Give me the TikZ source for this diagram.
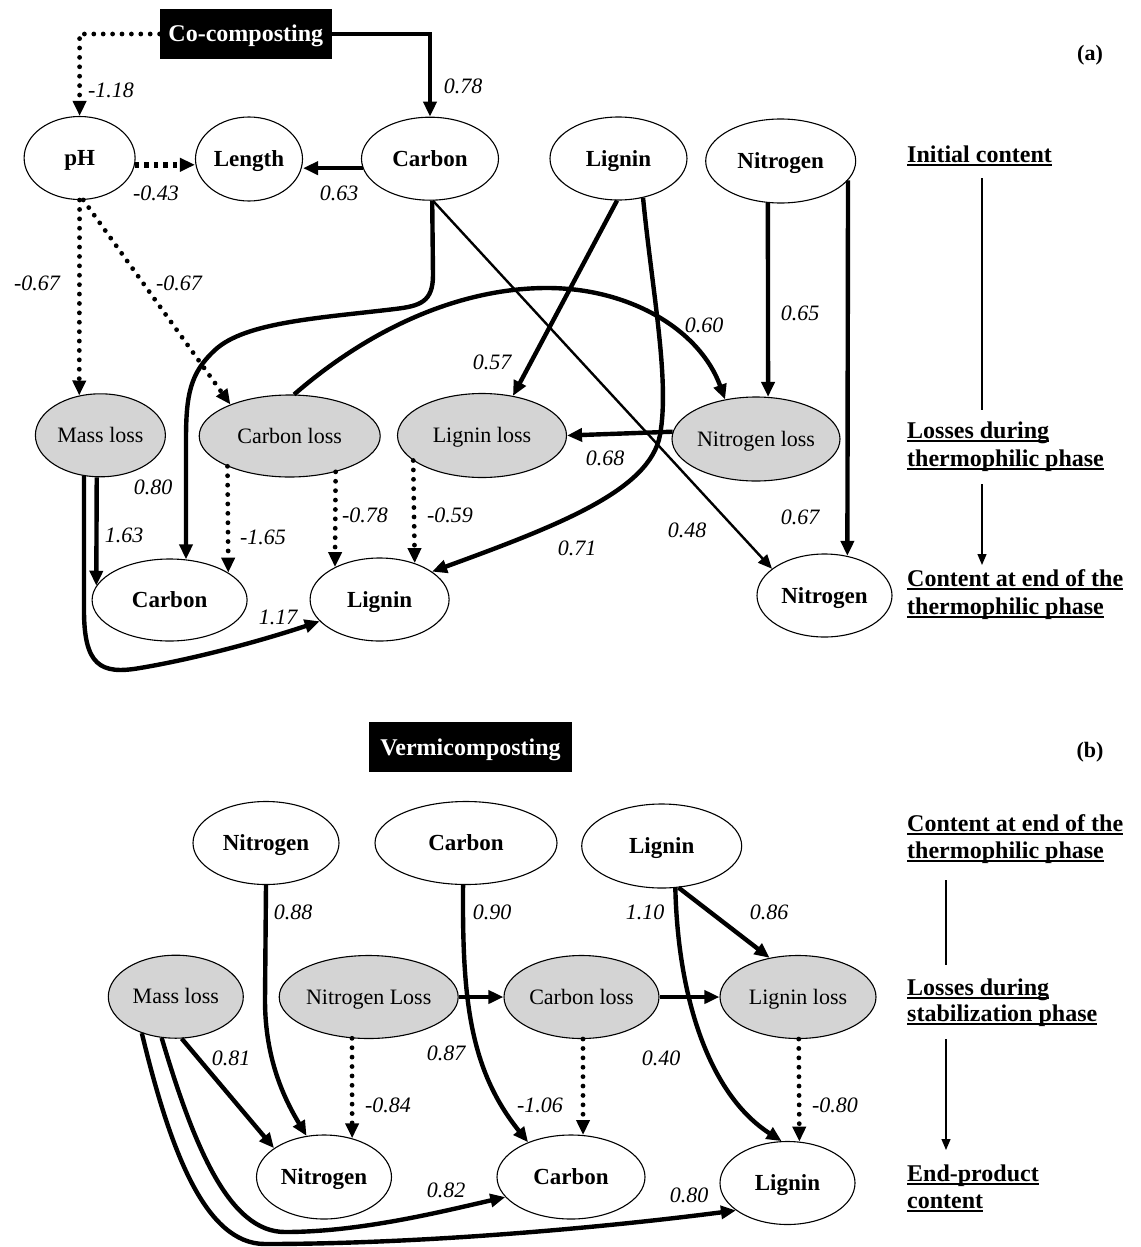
\documentclass[tikz,border=0pt]{standalone}
\usepackage{fontspec}
\setmainfont{Liberation Serif}
\usetikzlibrary{shapes.geometric,arrows.meta}
\definecolor{lossgray}{RGB}{212,212,212}
\newcommand\ulbox[1]{\setbox0\hbox{#1}\rlap{\rule[-4pt]{\wd0}{1.8pt}}\box0}
\begin{document}
\begin{tikzpicture}[x=1pt,y=-1pt,
  ell/.style={draw,ellipse,line width=1.1pt,inner sep=0pt,text height=15.5pt,text depth=0pt,font=\fontsize{23}{26}\selectfont\bfseries},
  lossell/.style={ell,fill=lossgray,text height=14.5pt,font=\fontsize{22}{26}\selectfont\mdseries},
  blackbox/.style={fill=black,text=white,inner sep=0pt,text height=16pt,text depth=0pt,font=\fontsize{24}{28}\selectfont\bfseries},
  lbl/.style={inner sep=0pt,font=\fontsize{22}{26}\selectfont\itshape},
  side/.style={inner sep=0pt,anchor=base west,font=\fontsize{24}{28}\selectfont\bfseries},
  tip/.style={-{Triangle[length=15pt,width=13pt]}},
  solidarr/.style={line width=4.4pt,tip},
  thinarr/.style={line width=2.4pt,-{Triangle[length=14pt,width=12pt]}},
  dotarr/.style={line width=4.8pt,dash pattern=on 0pt off 9.4pt,line cap=round,tip},
  dasharr/.style={line width=5.5pt,dash pattern=on 4.5pt off 5pt,tip},
  guide/.style={line width=1.3pt},
  guidearr/.style={line width=1.3pt,-{Triangle[length=11pt,width=9pt]}}
]
\useasboundingbox (0,0) rectangle (1140,1247);

% ---------------- (a) ----------------
\node[blackbox,minimum width=172pt,minimum height=50pt] (cc) at (245.8,34) {Co-composting};
\node[ell,minimum width=111pt,minimum height=83pt] (ph) at (79.6,158) {pH};
\node[ell,minimum width=107pt,minimum height=84pt] (len) at (249,159) {Length};
\node[ell,minimum width=137pt,minimum height=83pt] (ca) at (430,158.7) {Carbon};
\node[ell,minimum width=137pt,minimum height=83pt] (la) at (618.5,158.5) {Lignin};
\node[ell,minimum width=150pt,minimum height=84pt] (na) at (780.7,161) {Nitrogen};
\node[lossell,minimum width=130pt,minimum height=83pt] (ml) at (100.4,435.3) {Mass loss};
\node[lossell,minimum width=181pt,minimum height=82pt] (cl) at (289.7,436) {Carbon loss};
\node[lossell,minimum width=169pt,minimum height=84pt] (ll) at (482,435.5) {Lignin loss};
\node[lossell,minimum width=168pt,minimum height=84pt] (nl) at (756,439) {Nitrogen loss};
\node[ell,minimum width=155pt,minimum height=82pt] (cb) at (169.6,600) {Carbon};
\node[ell,minimum width=139pt,minimum height=83pt] (lb) at (379.6,599.5) {Lignin};
\node[ell,minimum width=135pt,minimum height=83pt] (nb) at (824.5,595.5) {Nitrogen};

\draw[dotarr] (cc.west) -| (ph.north);
\draw[solidarr] (cc.east) -| (ca.north);
\draw[dasharr] (ph.-7) -- (ph.-7 -| len.west);
\draw[solidarr] (ca.188) -- (ca.188 -| len.east);
\draw[dotarr] (ph.south) -- (ml.118);
\draw[dotarr] (ph.-85) -- (cl.152);
\draw[solidarr] (ml.-95) -- (cb.169);
\draw[solidarr] (ml.-112) -- (84,610) .. controls (84,665) and (100,675) .. (140,668) .. controls (200,658) and (270,638) .. (lb.200);
\draw[solidarr] (ca.-87) -- (433,275) .. controls (433,302) and (420,306) .. (395,309) .. controls (320,318) and (245,322) .. (215,350) .. controls (190,373) and (186,395) .. (186,440) -- (cb.68);
\draw[dotarr] (cl.-154) -- (cb.25);
\draw[dotarr] (cl.-38) -- (lb.144);
\draw[dotarr] (ll.-160) -- (lb.46);
\draw[solidarr] (cl.84) .. controls (380,320) and (470,288) .. (547,288) .. controls (630,288) and (700,330) .. (nl.128);
\draw[solidarr] (la.-92) -- (ll.52);
\draw[solidarr] (la.-58) .. controls (652,290) and (670,380) .. (660,435) .. controls (650,490) and (560,525) .. (lb.28);
\draw[thinarr] (ca.-86) -- (nb.153);
\draw[solidarr] (nl.175) -- (ll.east);
\draw[solidarr] (na.-107) -- (nl.74);
\draw[solidarr] (na.-16.5) -- (nb.60);

\node[lbl] (l1) at (111,90) {-1.18};
\node[lbl] (l2) at (463,86) {0.78};
\node[lbl] (l3) at (156,193) {-0.43};
\node[lbl] (l4) at (339,193) {0.63};
\node[lbl] (l5) at (37,283) {-0.67};
\node[lbl] (l6) at (179,283) {-0.67};
\node[lbl] (l7) at (492,362) {0.57};
\node[lbl] (l8) at (704,325) {0.60};
\node[lbl] (l9) at (800,313) {0.65};
\node[lbl] (l10) at (605,458) {0.68};
\node[lbl] (l11) at (153,487) {0.80};
\node[lbl] (l12) at (124,535) {1.63};
\node[lbl] (l13) at (263,537) {-1.65};
\node[lbl] (l14) at (365,515) {-0.78};
\node[lbl] (l15) at (450,515) {-0.59};
\node[lbl] (l16) at (577,548) {0.71};
\node[lbl] (l17) at (687,530) {0.48};
\node[lbl] (l18) at (800,517) {0.67};
\node[lbl] (l19) at (278,617) {1.17};

\node[inner sep=0pt,anchor=base,font=\fontsize{22}{26}\selectfont\bfseries] (pa) at (1090,60) {(a)};
\node[side] (ta1) at (907,162) {\ulbox{Initial content}};
\node[side] (ta2) at (907,438) {\ulbox{Losses during}};
\node[side] (ta3) at (907,466) {\ulbox{thermophilic phase}};
\node[side] (ta4) at (907,586) {\ulbox{Content at end of the}};
\node[side] (ta5) at (907,614) {\ulbox{thermophilic phase}};
\coordinate (ga1) at (982,178);
\coordinate (ga2) at (982,410);
\coordinate (ga3) at (982,484);
\coordinate (ga4) at (982,565);
\draw[guide] (ga1) -- (ga2);
\draw[guidearr] (ga3) -- (ga4);

% ---------------- (b) ----------------
\node[blackbox,minimum width=203pt,minimum height=50pt] (vc) at (470.5,747) {Vermicomposting};
\node[ell,minimum width=146pt,minimum height=83pt] (bn) at (266,843) {Nitrogen};
\node[ell,minimum width=182pt,minimum height=83pt] (bc) at (466,843) {Carbon};
\node[ell,minimum width=160pt,minimum height=84pt] (bl) at (661.7,846) {Lignin};
\node[lossell,minimum width=135pt,minimum height=83pt] (bml) at (175.8,996.7) {Mass loss};
\node[lossell,minimum width=179pt,minimum height=83pt] (bnl) at (368.7,997) {Nitrogen Loss};
\node[lossell,minimum width=155pt,minimum height=83pt] (bcl) at (581.5,997) {Carbon loss};
\node[lossell,minimum width=156pt,minimum height=83pt] (bll) at (798,997) {Lignin loss};
\node[ell,minimum width=135pt,minimum height=84pt] (en) at (324,1177) {Nitrogen};
\node[ell,minimum width=148pt,minimum height=84pt] (ec) at (571,1177) {Carbon};
\node[ell,minimum width=135pt,minimum height=83pt] (el) at (787.5,1183) {Lignin};

\draw[solidarr] (bn.south) -- (265,1000) .. controls (265,1060) and (285,1100) .. (en.113);
\draw[solidarr] (bc.-94) .. controls (462,1000) and (470,1070) .. (ec.141);
\draw[solidarr] (bl.-72) .. controls (678,1000) and (710,1095) .. (el.98);
\draw[solidarr] (bl.-68) -- (bll.126);
\draw[solidarr] (bnl.east) -- (bcl.west);
\draw[solidarr] (bcl.east) -- (bll.west);
\draw[solidarr] (bml.-82) -- (en.150);
\draw[dotarr] (bnl.-112) -- (en.54);
\draw[dotarr] (bcl.-88) -- (ec.74);
\draw[dotarr] (bll.-89) -- (el.74);
\draw[solidarr] (bml.-109) .. controls (195,1150) and (230,1232) .. (285,1232) .. controls (360,1232) and (440,1212) .. (ec.197);
\draw[solidarr] (bml.-133) .. controls (170,1150) and (205,1244) .. (265,1244) .. controls (420,1244) and (600,1228) .. (el.208);

\node[lbl] (m1) at (293,912) {0.88};
\node[lbl] (m2) at (492,912) {0.90};
\node[lbl] (m3) at (645,912) {1.10};
\node[lbl] (m4) at (769,912) {0.86};
\node[lbl] (m5) at (231,1058) {0.81};
\node[lbl] (m6) at (446,1053) {0.87};
\node[lbl] (m7) at (661,1058) {0.40};
\node[lbl] (m8) at (388,1105) {-0.84};
\node[lbl] (m9) at (540,1105) {-1.06};
\node[lbl] (m10) at (835,1105) {-0.80};
\node[lbl] (m11) at (446,1190) {0.82};
\node[lbl] (m12) at (689,1195) {0.80};

\node[inner sep=0pt,anchor=base,font=\fontsize{22}{26}\selectfont\bfseries] (pb) at (1090,757) {(b)};
\node[side] (tb1) at (907,831) {\ulbox{Content at end of the}};
\node[side] (tb2) at (907,858) {\ulbox{thermophilic phase}};
\node[side] (tb3) at (907,995) {\ulbox{Losses during}};
\node[side] (tb4) at (907,1021) {\ulbox{stabilization phase}};
\node[side] (tb5) at (907,1181) {\ulbox{End-product}};
\node[side] (tb6) at (907,1208) {\ulbox{content}};
\coordinate (gb1) at (946,880);
\coordinate (gb2) at (946,965);
\coordinate (gb3) at (946,1039);
\coordinate (gb4) at (946,1150);
\draw[guide] (gb1) -- (gb2);
\draw[guidearr] (gb3) -- (gb4);
\end{tikzpicture}
\end{document}
